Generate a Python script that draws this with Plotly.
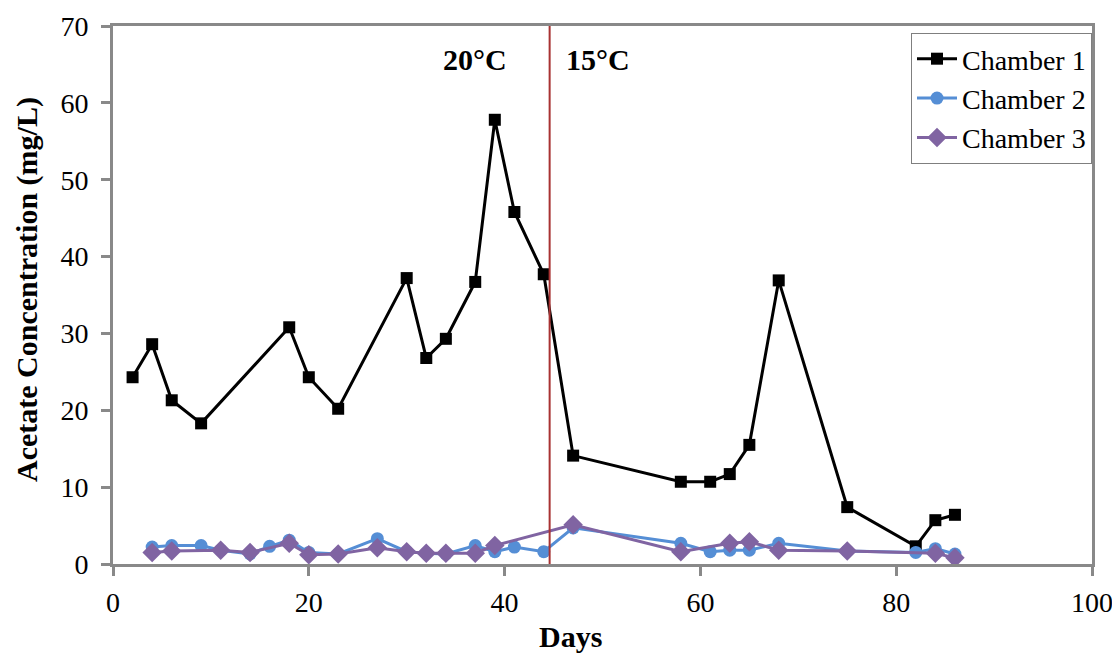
import plotly.graph_objects as go

days1 = [2, 4, 6, 9, 18, 20, 23, 30, 32, 34, 37, 39, 41, 44, 47, 58, 61, 63, 65, 68, 75, 82, 84, 86]
chamber1 = [24.3, 28.6, 21.3, 18.3, 30.8, 24.3, 20.2, 37.2, 26.8, 29.3, 36.7, 57.8, 45.8, 37.7,
            14.1, 10.7, 10.7, 11.7, 15.5, 36.9, 7.4, 2.3, 5.7, 6.4]

days2 = [4, 6, 9, 11, 14, 16, 18, 20, 23, 27, 30, 32, 34, 37, 39, 41, 44, 47, 58, 61, 63, 65, 68, 75, 82, 84, 86]
chamber2 = [2.2, 2.4, 2.4, 1.8, 1.3, 2.3, 3.1, 1.5, 1.3, 3.3, 1.6, 1.4, 1.3, 2.4, 1.6, 2.2, 1.6,
            4.7, 2.7, 1.6, 1.8, 1.8, 2.7, 1.7, 1.5, 2.0, 1.3]

days3 = [4, 6, 11, 14, 18, 20, 23, 27, 30, 32, 34, 37, 39, 47, 58, 63, 65, 68, 75, 84, 86]
chamber3 = [1.5, 1.7, 1.8, 1.5, 2.7, 1.2, 1.3, 2.1, 1.6, 1.4, 1.4, 1.4, 2.4, 5.1, 1.6, 2.7, 2.9,
            1.8, 1.7, 1.4, 0.8]

switch_day = 44.6
x_ticks = [0, 20, 40, 60, 80, 100]
y_ticks = [0, 10, 20, 30, 40, 50, 60, 70]

FONT = "Liberation Serif, Times New Roman, serif"
AXIS_GRAY = "#898989"

fig = go.Figure()
fig.add_trace(go.Scatter(x=days1, y=chamber1, name="Chamber 1", mode="lines+markers",
                         line=dict(color="black", width=3),
                         marker=dict(symbol="square", size=12, color="black")))
fig.add_trace(go.Scatter(x=days2, y=chamber2, name="Chamber 2", mode="lines+markers",
                         line=dict(color="#558ED5", width=3),
                         marker=dict(symbol="circle", size=13, color="#558ED5")))
fig.add_trace(go.Scatter(x=days3, y=chamber3, name="Chamber 3", mode="lines+markers",
                         line=dict(color="#8064A2", width=3),
                         marker=dict(symbol="diamond", size=15, color="#8064A2")))

fig.add_shape(type="line", xref="x", yref="paper", x0=switch_day, x1=switch_day, y0=0, y1=1,
              line=dict(color="#A83232", width=2))

fig.add_annotation(x=37.0, y=65.6, xref="x", yref="y", text="<b>20°C</b>", showarrow=False,
                   font=dict(family=FONT, size=30, color="black"))
fig.add_annotation(x=49.5, y=65.6, xref="x", yref="y", text="<b>15°C</b>", showarrow=False,
                   font=dict(family=FONT, size=30, color="black"))

# axis titles
fig.add_annotation(x=(570 - 113) / 979, y=-(636 - 564) / 538, xref="paper", yref="paper",
                   text="<b>Days</b>", showarrow=False, yanchor="middle",
                   font=dict(family=FONT, size=30, color="black"))
fig.add_annotation(x=-(113 - 27) / 979, y=(564 - 290) / 538, xref="paper", yref="paper",
                   text="<b>Acetate Concentration (mg/L)</b>", showarrow=False, textangle=-90,
                   xanchor="center", yanchor="middle",
                   font=dict(family=FONT, size=30, color="black"))

# page body has an 8px margin: shrink the canvas so the plot lands where the reference has it
fig.update_layout(
    width=1112, height=648,
    margin=dict(l=105, r=28, t=18, b=92, autoexpand=False),
    paper_bgcolor="white", plot_bgcolor="white",
    font=dict(family=FONT, size=28, color="black"),
    showlegend=True,
    legend=dict(x=1, xanchor="right", y=0.987, yanchor="top",
                bgcolor="white", bordercolor="#7f7f7f", borderwidth=1,
                font=dict(family=FONT, size=28, color="black"),
                tracegroupgap=0, itemwidth=40),
)
fig.update_xaxes(range=[0, 100], tickvals=x_ticks, showgrid=False, zeroline=False,
                 automargin=False,
                 showline=True, linecolor=AXIS_GRAY, linewidth=3, mirror=True,
                 ticks="outside", ticklen=9, tickwidth=3, tickcolor=AXIS_GRAY,
                 tickfont=dict(family=FONT, size=28, color="black"), ticklabelstandoff=2)
fig.update_yaxes(range=[0, 70], tickvals=y_ticks, showgrid=False, zeroline=False,
                 automargin=False,
                 showline=True, linecolor=AXIS_GRAY, linewidth=3, mirror=True,
                 ticks="outside", ticklen=9, tickwidth=3, tickcolor=AXIS_GRAY,
                 tickfont=dict(family=FONT, size=28, color="black"), ticklabelstandoff=7)

fig.write_html("out.html")
